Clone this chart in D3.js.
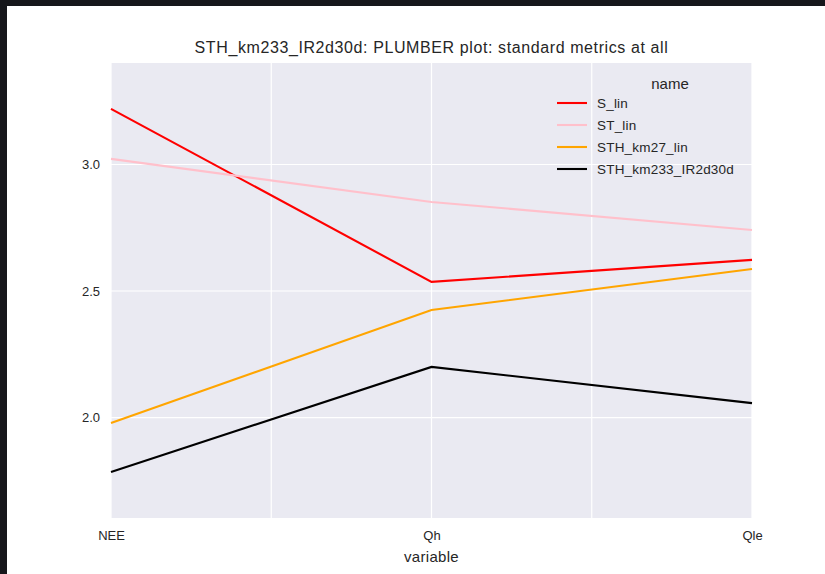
<!DOCTYPE html>
<html>
<head>
<meta charset="utf-8">
<script src="https://cdn.jsdelivr.net/npm/d3@7"></script>
<style>
  html, body { margin: 0; padding: 0; background: #16171b; }
  svg { display: block; }
  text { font-family: "Liberation Sans", Arial, sans-serif; fill: #262626; }
</style>
</head>
<body>
<div id="chart"></div>
<script>
var variables = ['NEE', 'Qh', 'Qle'];
var names = ['S_lin', 'ST_lin', 'STH_km27_lin', 'STH_km233_IR2d30d'];
var colors = ['#ff0000', '#ffc0cb', '#ffa500', '#000000'];
var S_lin = [3.22, 2.536, 2.623];
var ST_lin = [3.022, 2.852, 2.741];
var STH_km27_lin = [1.978, 2.425, 2.587];
var STH_km233_IR2d30d = [1.785, 2.200, 2.057];
var yTicks = [2.0, 2.5, 3.0];
var xGrid = [0, 0.5, 1, 1.5, 2];

var seriesValues = [S_lin, ST_lin, STH_km27_lin, STH_km233_IR2d30d];

var width = 825;
var height = 574;
var plot = {left: 111, right: 752, top: 63, bottom: 518};

var svg = d3.select('#chart')
            .append('svg')
            .attr('width', width)
            .attr('height', height);

// white figure area, the dark strip round it is the screenshot border
svg.append('rect')
   .attr('x', 7)
   .attr('y', 6)
   .attr('width', width - 7)
   .attr('height', height - 6)
   .attr('fill', '#ffffff');

var x = d3.scaleLinear()
          .domain([0, variables.length - 1])
          .range([plot.left, plot.right]);

var y = d3.scaleLinear()
          .domain([1.603, 3.401])
          .range([plot.bottom, plot.top]);

// grey axes background
svg.append('rect')
   .attr('x', plot.left)
   .attr('y', plot.top)
   .attr('width', plot.right - plot.left)
   .attr('height', plot.bottom - plot.top)
   .attr('fill', '#eaeaf2');

// grid lines
var grid = svg.append('g');
grid.selectAll('.vgrid')
    .data(xGrid)
    .enter()
    .append('line')
      .attr('x1', function (d) { return x(d); })
      .attr('x2', function (d) { return x(d); })
      .attr('y1', plot.top)
      .attr('y2', plot.bottom)
      .attr('stroke', '#ffffff')
      .attr('stroke-width', 1.2);
grid.selectAll('.hgrid')
    .data(yTicks)
    .enter()
    .append('line')
      .attr('x1', plot.left)
      .attr('x2', plot.right)
      .attr('y1', function (d) { return y(d); })
      .attr('y2', function (d) { return y(d); })
      .attr('stroke', '#ffffff')
      .attr('stroke-width', 1.2);

// y axis labels
var yAxis = d3.axisLeft(y)
              .tickValues(yTicks)
              .tickFormat(d3.format('.1f'))
              .tickSize(0)
              .tickPadding(11);
var gy = svg.append('g')
            .attr('transform', 'translate(' + plot.left + ',0)')
            .call(yAxis);
gy.select('.domain').remove();
gy.selectAll('text')
  .attr('font-size', 13)
  .attr('font-family', '"Liberation Sans", Arial, sans-serif')
  .attr('fill', '#262626');

// x axis labels
var xAxis = d3.axisBottom(x)
              .tickValues([0, 1, 2])
              .tickFormat(function (d) { return variables[d]; })
              .tickSize(0)
              .tickPadding(13);
var gx = svg.append('g')
            .attr('transform', 'translate(0,' + plot.bottom + ')')
            .call(xAxis);
gx.select('.domain').remove();
gx.selectAll('text')
  .attr('font-size', 13)
  .attr('font-family', '"Liberation Sans", Arial, sans-serif')
  .attr('fill', '#262626');

// lines
var line = d3.line()
             .x(function (d, i) { return x(i); })
             .y(function (d) { return y(d); });

svg.append('g')
   .selectAll('path')
   .data(seriesValues)
   .enter()
   .append('path')
     .attr('d', line)
     .attr('fill', 'none')
     .attr('stroke', function (d, i) { return colors[i]; })
     .attr('stroke-width', 2.1);

// title and axis label
svg.append('text')
   .attr('x', (plot.left + plot.right) / 2)
   .attr('y', 53)
   .attr('text-anchor', 'middle')
   .attr('font-size', 16)
   .attr('letter-spacing', 0.6)
   .text('STH_km233_IR2d30d: PLUMBER plot: standard metrics at all');

svg.append('text')
   .attr('x', (plot.left + plot.right) / 2)
   .attr('y', 562)
   .attr('text-anchor', 'middle')
   .attr('font-size', 15)
   .attr('letter-spacing', 0.3)
   .text('variable');

// legend
var legend = svg.append('g');
legend.append('text')
      .attr('x', 670)
      .attr('y', 89)
      .attr('text-anchor', 'middle')
      .attr('font-size', 15)
      .text('name');

var items = legend.selectAll('.item')
                  .data(names)
                  .enter()
                  .append('g')
                    .attr('transform', function (d, i) {
                      return 'translate(557,' + (103 + i * 22) + ')';
                    });
items.append('line')
     .attr('x1', 0)
     .attr('x2', 30)
     .attr('stroke', function (d, i) { return colors[i]; })
     .attr('stroke-width', 2.1);
items.append('text')
     .attr('x', 40)
     .attr('y', 5)
     .attr('font-size', 13.5)
     .attr('letter-spacing', 0.2)
     .text(function (d) { return d; });
</script>
</body>
</html>
